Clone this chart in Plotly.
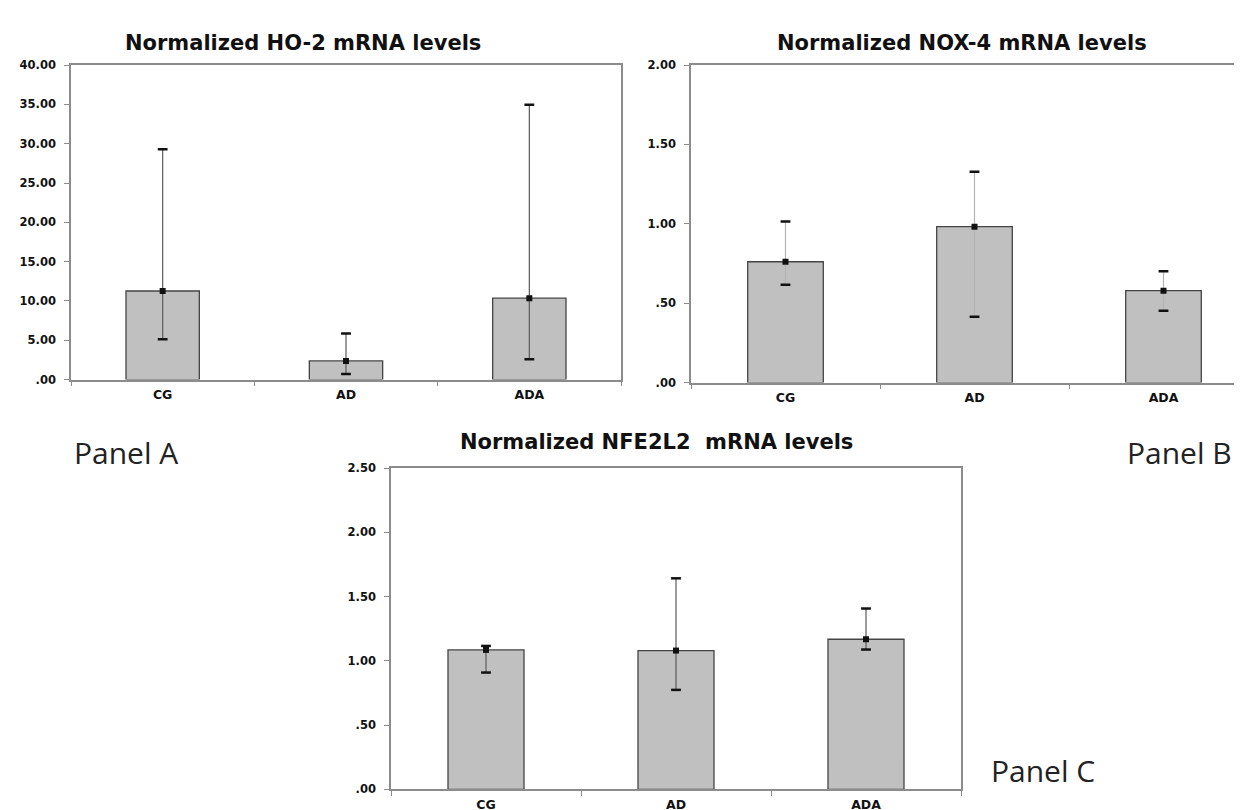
import plotly.graph_objects as go

W, H = 1242, 810

categories = ["CG", "AD", "ADA"]

# Panel A: HO-2
ho2_mean = [11.27, 2.38, 10.35]
ho2_upper = [29.31, 5.85, 34.95]
ho2_lower = [5.14, 0.71, 2.59]
ho2_ticks = [0, 5, 10, 15, 20, 25, 30, 35, 40]
ho2_ticktext = [".00", "5.00", "10.00", "15.00", "20.00", "25.00", "30.00", "35.00", "40.00"]

# Panel B: NOX-4
nox4_mean = [0.761, 0.982, 0.579]
nox4_upper = [1.015, 1.328, 0.701]
nox4_lower = [0.616, 0.414, 0.453]
nox4_ticks = [0, 0.5, 1.0, 1.5, 2.0]
nox4_ticktext = [".00", ".50", "1.00", "1.50", "2.00"]

# Panel C: NFE2L2
nfe_mean = [1.085, 1.080, 1.168]
nfe_upper = [1.116, 1.642, 1.407]
nfe_lower = [0.909, 0.774, 1.088]
nfe_ticks = [0, 0.5, 1.0, 1.5, 2.0, 2.5]
nfe_ticktext = [".00", ".50", "1.00", "1.50", "2.00", "2.50"]

titles = ["Normalized HO-2 mRNA levels", "Normalized NOX-4 mRNA levels",
          "Normalized NFE2L2&nbsp;&nbsp;mRNA levels"]
panel_labels = ["Panel A", "Panel B", "Panel C"]


def px(x):
    return x / W


def py(y):
    return 1 - y / H


fig = go.Figure()

panels = [
    dict(mean=ho2_mean, up=ho2_upper, lo=ho2_lower, ticks=ho2_ticks, tt=ho2_ticktext,
         xd=[px(63), px(613)], yd=[py(371), py(51)], yr=[0, 40], xr=[-0.5, 2.5],
         stem="#5a5a5a", ax="x", ay="y"),
    dict(mean=nox4_mean, up=nox4_upper, lo=nox4_lower, ticks=nox4_ticks, tt=nox4_ticktext,
         xd=[px(683), 1.0], yd=[py(374), py(51)], yr=[0, 2], xr=[-0.5, -0.5 + (W - 683) / 189.0],
         stem="#b4b4b4", ax="x2", ay="y2"),
    dict(mean=nfe_mean, up=nfe_upper, lo=nfe_lower, ticks=nfe_ticks, tt=nfe_ticktext,
         xd=[px(383), px(953)], yd=[py(788), py(461)], yr=[0, 2.5], xr=[-0.5, 2.5],
         stem="#5a5a5a", ax="x3", ay="y3"),
]

for i, p in enumerate(panels):
    plus = [u - m for u, m in zip(p["up"], p["mean"])]
    minus = [m - l for m, l in zip(p["mean"], p["lo"])]
    fig.add_trace(go.Bar(
        x=categories, y=p["mean"], width=0.40,
        marker=dict(color="#c0c0c0", line=dict(color="#444444", width=1.3)),
        error_y=dict(type="data", symmetric=False, array=plus, arrayminus=minus,
                     color=p["stem"], thickness=1.2, width=0),
        xaxis=p["ax"], yaxis=p["ay"], showlegend=False, hoverinfo="skip"))
    fig.add_trace(go.Scatter(
        x=categories + categories, y=p["up"] + p["lo"], mode="markers",
        marker=dict(symbol="line-ew", size=7, line=dict(color="#111111", width=2.5)),
        xaxis=p["ax"], yaxis=p["ay"], showlegend=False, hoverinfo="skip"))
    fig.add_trace(go.Scatter(
        x=categories, y=p["mean"], mode="markers",
        marker=dict(symbol="square", size=6, color="#111111"),
        xaxis=p["ax"], yaxis=p["ay"], showlegend=False, hoverinfo="skip"))

BOLD = "DejaVu Sans"
ytickfont = dict(family=BOLD, size=11.5, color="#111111", weight="bold")
xtickfont = dict(family=BOLD, size=12.5, color="#111111", weight="bold")
axis_common = dict(showline=True, linecolor="#8c8c8c", linewidth=1.5, showgrid=False,
                   zeroline=False, ticks="outside", ticklen=5, tickcolor="#8c8c8c",
                   tickwidth=1)

layout = dict(width=W, height=H, margin=dict(l=0, r=0, t=0, b=0),
              paper_bgcolor="white", plot_bgcolor="white")

for i, p in enumerate(panels):
    sfx = "" if i == 0 else str(i + 1)
    layout["xaxis" + sfx] = dict(axis_common, domain=p["xd"], range=p["xr"],
                                 anchor="y" + sfx, type="category", tickfont=xtickfont,
                                 tickson="boundaries", mirror=True,
                                 ticklabelstandoff=3)
    layout["yaxis" + sfx] = dict(axis_common, domain=p["yd"], range=p["yr"],
                                 anchor="x" + sfx, tickvals=p["ticks"], ticktext=p["tt"],
                                 tickfont=ytickfont,
                                 mirror=(i != 1), ticklabelstandoff=6)

fig.update_layout(**layout)

title_pos = [(294.6, 28.5), (953.8, 28.5), (648.7, 435)]
for t, (x, y) in zip(titles, title_pos):
    fig.add_annotation(text="<b>" + t + "</b>", x=px(x), y=py(y), xref="paper", yref="paper",
                       xanchor="center", yanchor="middle", showarrow=False,
                       font=dict(family=BOLD, size=21, color="#111111"))

label_pos = [(64, 445), (1117, 445), (981, 769)]
for t, (x, y) in zip(panel_labels, label_pos):
    fig.add_annotation(text=t, x=px(x), y=py(y), xref="paper", yref="paper",
                       xanchor="left", yanchor="middle", showarrow=False,
                       font=dict(family="Open Sans, Noto Sans", size=30, color="#222222"))

fig.write_html("out.html")
